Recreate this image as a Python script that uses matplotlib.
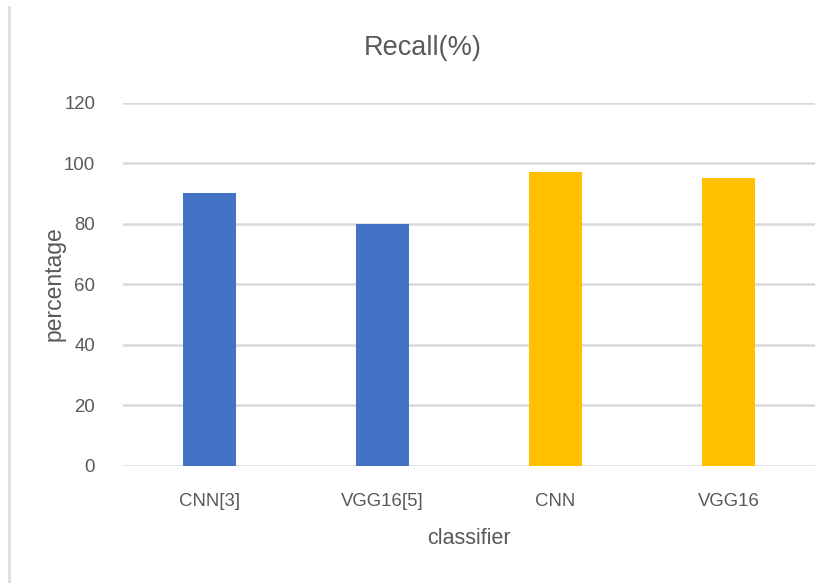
import matplotlib
matplotlib.use('Agg')
import matplotlib.pyplot as plt
from matplotlib.lines import Line2D

# Recall per classifier (published models vs ours)
classifiers = ['CNN[3]', 'VGG16[5]', 'CNN', 'VGG16']
recall = [90, 80, 97, 95]
bar_colors = ['#4472C4', '#4472C4', '#FFC000', '#FFC000']
yticks = [0, 20, 40, 60, 80, 100, 120]

fonts = ['Liberation Sans', 'DejaVu Sans']
text_color = '#595959'
grid_color = '#D9D9D9'

fig = plt.figure(figsize=(8.22, 5.83), dpi=100)
ax = fig.add_axes([0.1496, 0.2015, 0.842, 0.6223])

x = range(len(classifiers))
ax.bar(x, recall, width=0.31, color=bar_colors, zorder=3)

ax.set_xlim(-0.5, len(classifiers) - 0.5)
ax.set_ylim(0, 120)
ax.set_yticks(yticks)
ax.set_xticks(list(x))
ax.set_xticklabels(classifiers)

ax.grid(axis='y', color=grid_color, linewidth=1.8, zorder=0)
for side in ['top', 'right', 'left', 'bottom']:
    ax.spines[side].set_visible(False)
ax.tick_params(axis='both', length=0, colors=text_color, labelsize=13.4)
ax.tick_params(axis='y', pad=20)
ax.tick_params(axis='x', pad=20)
for lbl in ax.get_xticklabels() + ax.get_yticklabels():
    lbl.set_family(fonts)

fig.text(423 / 822, 1 - 48 / 583, 'Recall(%)', ha='center', va='center',
         fontsize=19.5, color=text_color, family=fonts)
fig.text(54 / 822, 1 - 284 / 583, 'percentage', ha='center', va='center',
         rotation=90, fontsize=16.5, color=text_color, family=fonts)
fig.text(469 / 822, 1 - 538 / 583, 'classifier', ha='center', va='center',
         fontsize=15.5, color=text_color, family=fonts)

# thin frame edge on the left side
fig.add_artist(Line2D([8.5 / 822, 8.5 / 822], [0, 1 - 7 / 583],
                      transform=fig.transFigure, color=grid_color, linewidth=1.8))

fig.savefig('out.png', dpi=100, facecolor='white')
